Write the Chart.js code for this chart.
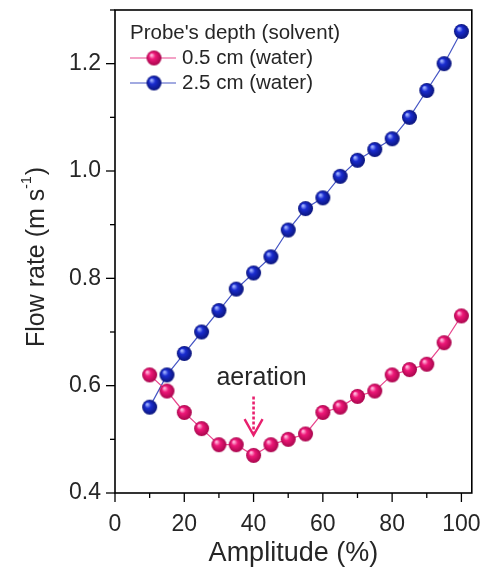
<!DOCTYPE html>
<html>
<head>
<meta charset="utf-8">
<script src="https://cdn.jsdelivr.net/npm/chart.js@4/dist/chart.umd.min.js"></script>
<style>
  html, body { margin: 0; padding: 0; background: #fff; }
  #wrap { width: 481px; height: 570px; }
</style>
</head>
<body>
<div id="wrap"><canvas id="chart" width="481" height="570"></canvas></div>
<script>
// amplitude (%) on x
const amplitude = [10, 15, 20, 25, 30, 35, 40, 45, 50, 55, 60, 65, 70, 75, 80, 85, 90, 95, 100];
// flow rate (m s-1), probe at 0.5 cm
const depth05 = [0.62, 0.59, 0.55, 0.52, 0.49, 0.49, 0.47, 0.49, 0.50, 0.51, 0.55, 0.56, 0.58, 0.59, 0.62, 0.63, 0.64, 0.68, 0.73];
// flow rate (m s-1), probe at 2.5 cm
const depth25 = [0.56, 0.62, 0.66, 0.70, 0.74, 0.78, 0.81, 0.84, 0.89, 0.93, 0.95, 0.99, 1.02, 1.04, 1.06, 1.10, 1.15, 1.20, 1.26];
const seriesLabels = ['0.5 cm (water)', '2.5 cm (water)'];
const legendTitle = "Probe's depth (solvent)";
const xTicks = [0, 20, 40, 60, 80, 100];
const yTicks = [0.4, 0.6, 0.8, 1.0, 1.2];
const note = { text: 'aeration', x: 40, textY: 0.618, arrowTop: 0.58, arrowTip: 0.508 };

const FONT = '"Liberation Sans", Arial, sans-serif';
const TEXT = '#262626';

// шарик для маркера
function makeSphere(base, light, dark, r) {
  const c = document.createElement('canvas');
  const s = r * 2 + 2;
  c.width = s; c.height = s;
  const g = c.getContext('2d');
  const cx = s / 2, cy = s / 2;
  const grad = g.createRadialGradient(cx - r * 0.35, cy - r * 0.4, r * 0.1, cx, cy, r);
  grad.addColorStop(0, light);
  grad.addColorStop(0.35, base);
  grad.addColorStop(1, dark);
  g.fillStyle = grad;
  g.beginPath();
  g.arc(cx, cy, r, 0, Math.PI * 2);
  g.fill();
  return c;
}

const pinkBall = makeSphere('#ee1878', '#ffb4da', '#a8054c', 7.5);
const blueBall = makeSphere('#1a2cd0', '#9fb0ff', '#0a147a', 7.5);

const series = [
  { label: seriesLabels[0], data: depth05, line: '#e8478e', ball: pinkBall },
  { label: seriesLabels[1], data: depth25, line: '#4656c4', ball: blueBall },
];

// рамка, засечки, подпись оси Y, легенда и стрелка
const framePlugin = {
  id: 'frame',
  afterDraw(chart) {
    const { ctx, chartArea: a, scales } = chart;
    const xs = scales.x, ys = scales.y;
    ctx.save();
    ctx.strokeStyle = '#000';
    ctx.lineWidth = 1.6;
    ctx.strokeRect(a.left, a.top, a.right - a.left, a.bottom - a.top);

    ctx.lineWidth = 1.3;
    for (let v = 0; v <= 100; v += 10) {
      const px = xs.getPixelForValue(v);
      const len = v % 20 === 0 ? 9 : 5;
      ctx.beginPath();
      ctx.moveTo(px, a.bottom);
      ctx.lineTo(px, a.bottom + len);
      ctx.stroke();
    }
    for (let i = 4; i <= 13; i++) {
      const py = ys.getPixelForValue(i / 10);
      const len = i % 2 === 0 ? 9 : 5;
      ctx.beginPath();
      ctx.moveTo(a.left, py);
      ctx.lineTo(a.left - len, py);
      ctx.stroke();
    }

    // подпись оси Y с верхним индексом
    const cy = (a.top + a.bottom) / 2 + 6;
    ctx.translate(37, cy);
    ctx.rotate(-Math.PI / 2);
    ctx.fillStyle = TEXT;
    ctx.textBaseline = 'middle';
    const big = '25px ' + FONT, small = '14px ' + FONT;
    ctx.font = big;
    const p1 = 'Flow rate (m s', p3 = ')';
    ctx.font = small;
    const w2 = ctx.measureText('-1').width;
    ctx.font = big;
    const w1 = ctx.measureText(p1).width, w3 = ctx.measureText(p3).width;
    let x0 = -(w1 + w2 + w3) / 2;
    ctx.textAlign = 'left';
    ctx.fillText(p1, x0, 0);
    ctx.font = small;
    ctx.fillText('-1', x0 + w1, -10);
    ctx.font = big;
    ctx.fillText(p3, x0 + w1 + w2 + 1, 0);
    ctx.restore();

    // легенда
    ctx.save();
    ctx.fillStyle = TEXT;
    ctx.textBaseline = 'middle';
    ctx.textAlign = 'left';
    ctx.font = '20.5px ' + FONT;
    ctx.fillText(legendTitle, a.left + 15, 33);
    series.forEach((s, i) => {
      const y = 58 + i * 25;
      ctx.strokeStyle = s.line;
      ctx.lineWidth = 1.2;
      ctx.beginPath();
      ctx.moveTo(a.left + 15, y);
      ctx.lineTo(a.left + 61, y);
      ctx.stroke();
      ctx.drawImage(s.ball, a.left + 39 - s.ball.width / 2, y - s.ball.height / 2);
      ctx.fillText(s.label, a.left + 67, y);
    });

    // aeration
    const ax = xs.getPixelForValue(note.x);
    ctx.font = '25px ' + FONT;
    ctx.textAlign = 'center';
    ctx.fillText(note.text, ax + 8, ys.getPixelForValue(note.textY) + 2);
    const top = ys.getPixelForValue(note.arrowTop), tip = ys.getPixelForValue(note.arrowTip);
    ctx.strokeStyle = '#e8206e';
    ctx.lineWidth = 2.6;
    ctx.setLineDash([3, 2]);
    ctx.beginPath();
    ctx.moveTo(ax, top);
    ctx.lineTo(ax, tip - 2);
    ctx.stroke();
    ctx.setLineDash([]);
    ctx.lineWidth = 2.4;
    ctx.beginPath();
    ctx.moveTo(ax - 9, tip - 16);
    ctx.lineTo(ax, tip);
    ctx.lineTo(ax + 9, tip - 16);
    ctx.stroke();
    ctx.restore();
  },
};

new Chart(document.getElementById('chart'), {
  type: 'line',
  data: {
    datasets: series.map((s) => ({
      label: s.label,
      data: amplitude.map((x, i) => ({ x, y: s.data[i] })),
      borderColor: s.line,
      borderWidth: 1.2,
      pointStyle: s.ball,
      pointRadius: 8,
      tension: 0,
    })),
  },
  options: {
    animation: false,
    responsive: false,
    layout: { padding: { top: 10, right: 8, left: 0, bottom: 0 } },
    plugins: { legend: { display: false }, tooltip: { enabled: false } },
    scales: {
      x: {
        type: 'linear',
        min: 0,
        max: 103,
        afterBuildTicks: (axis) => { axis.ticks = xTicks.map((v) => ({ value: v })); },
        grid: { display: false, drawTicks: false },
        border: { display: false },
        ticks: { color: TEXT, font: { family: FONT, size: 23 }, padding: 18, maxRotation: 0 },
        title: { display: true, text: 'Amplitude (%)', color: TEXT, font: { family: FONT, size: 27 }, padding: { top: 4, bottom: 0 } },
        afterFit: (axis) => {
          axis.height = 77;
          axis.paddingLeft = 0;
          axis.paddingRight = 0;
        },
      },
      y: {
        type: 'linear',
        min: 0.4,
        max: 1.3,
        afterBuildTicks: (axis) => { axis.ticks = yTicks.map((v) => ({ value: v })); },
        grid: { display: false, drawTicks: false },
        border: { display: false },
        ticks: {
          color: TEXT,
          font: { family: FONT, size: 23 },
          padding: 14,
          callback: (v) => v.toFixed(1),
        },
        afterFit: (axis) => {
          axis.width = 115;
          axis.paddingTop = 0;
          axis.paddingBottom = 0;
        },
      },
    },
  },
  plugins: [framePlugin],
});
</script>
</body>
</html>
